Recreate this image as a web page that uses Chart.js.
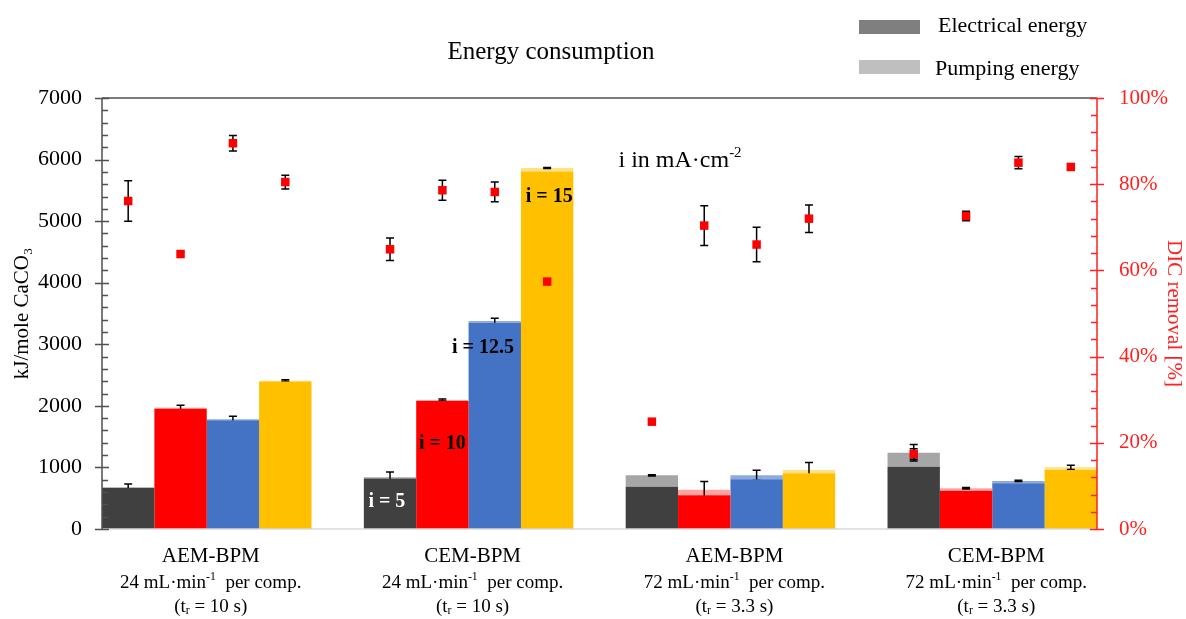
<!DOCTYPE html>
<html>
<head>
<meta charset="utf-8">
<script src="https://cdn.jsdelivr.net/npm/chart.js@4.4.0/dist/chart.umd.min.js"></script>
<style>
  html, body { margin: 0; padding: 0; background: #fff; }
</style>
</head>
<body>
<canvas id="stage" width="1186" height="619"></canvas>
<script>
// categories (x axis)
var membranes = ['AEM-BPM', 'CEM-BPM', 'AEM-BPM', 'CEM-BPM'];
var flowRates = ['24', '24', '72', '72'];
var residenceTimes = ['10', '10', '3.3', '3.3'];
var currentLabels = ['i = 5', 'i = 10', 'i = 12.5', 'i = 15'];

// electrical / pumping energy, kJ per mole CaCO3, and error on the total
var elecI5 = [665, 820, 687, 1012];
var pumpI5 = [12, 20, 185, 227];
var errI5 = [55, 85, 10, 135];
var elecI10 = [1952, 2080, 547, 622];
var pumpI10 = [18, 15, 91, 39];
var errI10 = [38, 15, 133, 12];
var elecI125 = [1766, 3348, 807, 742];
var pumpI125 = [15, 30, 65, 38];
var errI125 = [50, 45, 81, 10];
var elecI15 = [2394, 5808, 904, 958];
var pumpI15 = [15, 55, 54, 44];
var errI15 = [15, 10, 122, 35];

// DIC removal [%] and its error
var dicI5 = [76.1, 64.9, 24.9, 17.4];
var dicErrI5 = [4.7, 2.6, 0, 1.2];
var dicI10 = [63.8, 78.6, 70.4, 72.6];
var dicErrI10 = [0, 2.3, 4.6, 1.1];
var dicI125 = [89.5, 78.2, 66.0, 85.0];
var dicErrI125 = [1.8, 2.3, 4.0, 1.4];
var dicI15 = [80.5, 57.4, 72.0, 84.0];
var dicErrI15 = [1.6, 0, 3.2, 0];

var serif = "'Liberation Serif', 'Times New Roman', serif";
Chart.defaults.font.family = serif;

var elecColors = ['#404040', '#FF0000', '#4472C4', '#FFC000'];
var pumpColors = ['#A6A6A6', '#FFA3A3', '#8FAADC', '#FFE083'];
var stacks = ['s5', 's10', 's125', 's15'];
var elecAll = [elecI5, elecI10, elecI125, elecI15];
var pumpAll = [pumpI5, pumpI10, pumpI125, pumpI15];
var errAll = [errI5, errI10, errI125, errI15];
var dicAll = [dicI5, dicI10, dicI125, dicI15];
var dicErrAll = [dicErrI5, dicErrI10, dicErrI125, dicErrI15];
// bar centre offsets inside a group (4 bars of 0.2 each)
var barOffsets = [-0.3, -0.1, 0.1, 0.3];

var datasets = [];
for (var s = 0; s < 4; s++) {
    datasets.push({
        type: 'bar', label: 'Electrical energy', stack: stacks[s], order: 1,
        data: elecAll[s].map(function (v, k) { return {x: k, y: v}; }),
        backgroundColor: elecColors[s], borderWidth: 0, yAxisID: 'y'
    });
    datasets.push({
        type: 'bar', label: 'Pumping energy', stack: stacks[s], order: 1,
        data: pumpAll[s].map(function (v, k) { return {x: k, y: v}; }),
        backgroundColor: pumpColors[s], borderWidth: 0, yAxisID: 'y',
        errors: errAll[s], totals: elecAll[s].map(function (v, k) { return v + pumpAll[s][k]; })
    });
}
for (var s = 0; s < 4; s++) {
    datasets.push({
        type: 'scatter', label: 'DIC removal', order: 0,
        data: dicAll[s].map(function (v, k) { return {x: k + barOffsets[s], y: v}; }),
        errors: dicErrAll[s],
        pointStyle: 'rect', pointRadius: 6, pointBorderWidth: 0,
        backgroundColor: '#FF0000', borderColor: '#FF0000', yAxisID: 'y2'
    });
}

function drawRich(ctx, parts, cx, cy, size, weight) {
    var small = size * 0.62;
    var w = 0;
    parts.forEach(function (p) {
        ctx.font = (weight || '') + ' ' + (p[1] ? small : size) + 'px ' + serif;
        w += ctx.measureText(p[0]).width;
    });
    var x = cx - w / 2;
    ctx.textAlign = 'left';
    ctx.textBaseline = 'middle';
    parts.forEach(function (p) {
        ctx.font = (weight || '') + ' ' + (p[1] ? small : size) + 'px ' + serif;
        var dy = p[1] === 1 ? -size * 0.32 : (p[1] === -1 ? size * 0.22 : 0);
        ctx.fillText(p[0], x, cy + dy);
        x += ctx.measureText(p[0]).width;
    });
}

function errorBar(ctx, x, yTop, yBot) {
    ctx.beginPath();
    ctx.moveTo(x, yTop); ctx.lineTo(x, yBot);
    ctx.moveTo(x - 4, yTop); ctx.lineTo(x + 4, yTop);
    ctx.moveTo(x - 4, yBot); ctx.lineTo(x + 4, yBot);
    ctx.stroke();
}

var decor = {
    id: 'decor',
    afterDatasetDraw: function (chart, args) {
        var ds = chart.data.datasets[args.index];
        if (args.meta.type !== 'bar' || !ds.errors) return;
        var ctx = chart.ctx, y = chart.scales.y;
        ctx.save();
        ctx.strokeStyle = '#000'; ctx.lineWidth = 1.5;
        args.meta.data.forEach(function (bar, k) {
            var e = ds.errors[k];
            if (!e) return;
            var t = ds.totals[k];
            errorBar(ctx, bar.x, y.getPixelForValue(t + e), y.getPixelForValue(t - e));
        });
        ctx.restore();
    },
    beforeDatasetDraw: function (chart, args) {
        var ds = chart.data.datasets[args.index];
        if (args.meta.type !== 'scatter') return;
        var ctx = chart.ctx, y2 = chart.scales.y2;
        ctx.save();
        ctx.strokeStyle = '#000'; ctx.lineWidth = 1.5;
        args.meta.data.forEach(function (pt, k) {
            var e = ds.errors[k];
            if (!e) return;
            var v = ds.data[k].y;
            errorBar(ctx, pt.x, y2.getPixelForValue(v + e), y2.getPixelForValue(v - e));
        });
        ctx.restore();
    },
    afterDraw: function (chart) {
        var ctx = chart.ctx, a = chart.chartArea;
        var x = chart.scales.x, y = chart.scales.y, y2 = chart.scales.y2;
        ctx.save();
        // frame lines
        ctx.lineWidth = 1.5;
        ctx.strokeStyle = '#D9D9D9';
        ctx.beginPath(); ctx.moveTo(a.left, a.bottom); ctx.lineTo(a.right, a.bottom); ctx.stroke();
        ctx.strokeStyle = '#505050';
        ctx.beginPath(); ctx.moveTo(a.left, a.top); ctx.lineTo(a.right, a.top); ctx.stroke();
        // left axis with ticks
        ctx.beginPath(); ctx.moveTo(a.left, a.top); ctx.lineTo(a.left, a.bottom);
        for (var v = 0; v <= 7000; v += 200) {
            var py = Math.round(y.getPixelForValue(v)) + 0.5;
            if (v % 1000 === 0) { ctx.moveTo(a.left - 7, py); ctx.lineTo(a.left + 7, py); }
            else { ctx.moveTo(a.left, py); ctx.lineTo(a.left + 6, py); }
        }
        ctx.stroke();
        // right axis with ticks
        ctx.strokeStyle = '#FF2020';
        ctx.beginPath(); ctx.moveTo(a.right, a.top); ctx.lineTo(a.right, a.bottom);
        for (var p = 0; p <= 100; p += 4) {
            var py2 = Math.round(y2.getPixelForValue(p)) + 0.5;
            if (p % 20 === 0) { ctx.moveTo(a.right - 7, py2); ctx.lineTo(a.right + 7, py2); }
            else { ctx.moveTo(a.right - 6, py2); ctx.lineTo(a.right, py2); }
        }
        ctx.stroke();

        // category labels
        ctx.fillStyle = '#000';
        for (var k = 0; k < membranes.length; k++) {
            var cx = x.getPixelForValue(k) + 4;
            drawRich(ctx, [[membranes[k], 0]], cx, 556, 21);
            drawRich(ctx, [[flowRates[k] + ' mL·min', 0], ['-1', 1], ['  per comp.', 0]], cx, 583, 19);
            drawRich(ctx, [['(t', 0], ['r', -1], [' = ' + residenceTimes[k] + ' s)', 0]], cx, 607, 19);
        }

        // current labels inside the CEM-BPM 24 mL/min bars
        var lab = [
            {t: currentLabels[0], dx: -0.012, v: 440, c: '#FFFFFF'},
            {t: currentLabels[1], dx: 0, v: 1380, c: '#000'},
            {t: currentLabels[2], dx: -0.045, v: 2940, c: '#000'},
            {t: currentLabels[3], dx: 0.008, v: 5390, c: '#000'}
        ];
        lab.forEach(function (l, s) {
            ctx.fillStyle = l.c;
            drawRich(ctx, [[l.t, 0]], x.getPixelForValue(1 + barOffsets[s] + l.dx), y.getPixelForValue(l.v), 20, 'bold');
        });

        // annotation, title and legend
        ctx.fillStyle = '#000';
        drawRich(ctx, [['i in mA·cm', 0], ['-2', 1]], 680, 161, 24);
        drawRich(ctx, [['Energy consumption', 0]], 551, 52, 25);
        ctx.fillStyle = '#7F7F7F'; ctx.fillRect(859, 20, 61, 14);
        ctx.fillStyle = '#BFBFBF'; ctx.fillRect(859, 60, 61, 14);
        ctx.fillStyle = '#000';
        ctx.font = '22px ' + serif; ctx.textAlign = 'left'; ctx.textBaseline = 'middle';
        ctx.fillText('Electrical energy', 938, 26);
        ctx.fillText('Pumping energy', 935, 69);
        ctx.restore();
    }
};

var canvas = document.getElementById('stage');
var chart = new Chart(canvas, {
    type: 'bar',
    data: {datasets: datasets},
    options: {
        responsive: false,
        animation: false,
        devicePixelRatio: 1,
        layout: {padding: {top: 98, left: 0, right: 0, bottom: 0}},
        plugins: {legend: {display: false}, title: {display: false}, tooltip: {enabled: false}},
        datasets: {bar: {categoryPercentage: 0.8, barPercentage: 1.0, grouped: true}},
        scales: {
            x: {
                type: 'linear', min: -0.4, max: 3.4, offset: false,
                afterBuildTicks: function (sc) { sc.ticks = [0, 1, 2, 3].map(function (v) { return {value: v}; }); },
                ticks: {display: false},
                grid: {display: false, drawTicks: false, offset: false},
                border: {display: false},
                afterFit: function (sc) { sc.height = 90; }
            },
            y: {
                position: 'left', min: 0, max: 7000, stacked: true,
                ticks: {stepSize: 1000, color: '#000', font: {size: 22}, padding: 20,
                    callback: function (v) { return String(v); }},
                grid: {display: false, drawTicks: false},
                border: {display: false},
                title: {display: true, text: 'kJ/mole CaCO₃', color: '#000', font: {size: 21}, padding: {top: 10, bottom: 0}},
                afterFit: function (sc) { sc.width = 102; }
            },
            y2: {
                position: 'right', min: 0, max: 100,
                ticks: {stepSize: 20, color: '#FF2020', font: {size: 21}, padding: 22,
                    callback: function (v) { return v + '%'; }},
                grid: {display: false, drawTicks: false},
                border: {display: false},
                title: {display: true, text: 'DIC removal [%]', color: '#FF2020', font: {size: 21}, padding: {top: 0, bottom: 0}},
                afterFit: function (sc) { sc.width = 89; }
            }
        }
    },
    plugins: [decor]
});
</script>
</body>
</html>
